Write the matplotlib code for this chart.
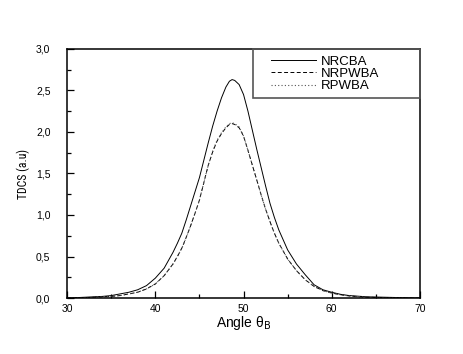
import matplotlib
matplotlib.use("Agg")
import matplotlib.pyplot as plt
from matplotlib.ticker import MultipleLocator, FuncFormatter
from matplotlib.patches import Rectangle

angle = [30, 32, 34, 35, 36, 37, 38, 39, 40, 41, 42, 42.5, 43, 43.5, 44, 44.5, 45,
         45.5, 46, 46.5, 47, 47.5, 48, 48.4, 48.7, 49, 49.5, 50, 50.5, 51, 51.5, 52,
         52.5, 53, 53.5, 54, 55, 56, 57, 58, 59, 60, 61, 62, 64, 66, 68, 70]
nrcba = [0.00, 0.01, 0.02, 0.03, 0.05, 0.07, 0.10, 0.15, 0.24, 0.36, 0.55, 0.66, 0.78,
         0.94, 1.11, 1.28, 1.45, 1.66, 1.87, 2.07, 2.25, 2.41, 2.54, 2.61, 2.63, 2.62,
         2.57, 2.45, 2.25, 2.02, 1.79, 1.57, 1.35, 1.14, 0.97, 0.82, 0.58, 0.41, 0.28,
         0.16, 0.10, 0.07, 0.045, 0.03, 0.015, 0.01, 0.005, 0.00]
nrpwba = [0.00, 0.005, 0.015, 0.02, 0.03, 0.05, 0.07, 0.11, 0.17, 0.27, 0.41, 0.50,
          0.60, 0.73, 0.87, 1.02, 1.18, 1.39, 1.60, 1.76, 1.89, 1.98, 2.05, 2.09, 2.10,
          2.09, 2.05, 1.95, 1.78, 1.60, 1.42, 1.24, 1.07, 0.92, 0.78, 0.66, 0.47, 0.33,
          0.22, 0.14, 0.09, 0.06, 0.04, 0.025, 0.01, 0.005, 0.003, 0.00]
rpwba = [0.00, 0.005, 0.015, 0.02, 0.03, 0.05, 0.07, 0.11, 0.17, 0.27, 0.41, 0.50,
         0.60, 0.73, 0.87, 1.02, 1.18, 1.39, 1.60, 1.77, 1.90, 1.99, 2.06, 2.10, 2.11,
         2.10, 2.06, 1.95, 1.78, 1.60, 1.42, 1.24, 1.07, 0.92, 0.78, 0.66, 0.47, 0.33,
         0.22, 0.14, 0.09, 0.06, 0.04, 0.025, 0.01, 0.005, 0.003, 0.00]

plt.rcParams['font.family'] = ['Liberation Sans', 'DejaVu Sans']

fig = plt.figure(figsize=(4.63, 3.54), dpi=100)
ax = fig.add_axes([0.145, 0.158, 0.762, 0.704])

ax.plot(angle, nrcba, color='black', lw=0.7, label='NRCBA')
ax.plot(angle, nrpwba, color='black', lw=0.7, ls=(0, (4, 2.5)), label='NRPWBA')
ax.plot(angle, rpwba, color='#555555', lw=0.8, ls=(0, (1, 2)), label='RPWBA')

ax.set_xlim(30, 70)
ax.set_ylim(0, 3.0)
ax.xaxis.set_major_locator(MultipleLocator(10))
ax.xaxis.set_minor_locator(MultipleLocator(5))
ax.yaxis.set_major_locator(MultipleLocator(0.5))
ax.yaxis.set_minor_locator(MultipleLocator(0.25))
ax.yaxis.set_major_formatter(FuncFormatter(lambda v, p: f"{v:.1f}".replace('.', ',')))
ax.tick_params(which='both', direction='in', top=False, right=False, labelsize=7.5)
ax.tick_params(which='major', length=5, width=0.9)
ax.tick_params(which='minor', length=3, width=0.9)
ax.tick_params(axis='y', which='major', pad=12)
ax.tick_params(axis='x', which='major', pad=4)
for s in ax.spines.values():
    s.set_linewidth(1.1)

ax.set_xlabel(r'Angle θ$_\mathrm{B}$', fontsize=10, labelpad=0)
ax.set_ylabel('TDCS (a.u)', fontsize=8.5,
              family=['Liberation Sans Narrow', 'Roboto Condensed', 'DejaVu Sans'],
              labelpad=4)

leg = ax.legend(loc='center left', bbox_to_anchor=(0.578, 0.90), borderaxespad=0.0,
                fontsize=9.5, frameon=False, handlelength=3.4, handletextpad=0.4,
                labelspacing=0.0, borderpad=0.0)
ax.add_patch(Rectangle((0.527, 0.803), 0.473, 0.197, transform=ax.transAxes,
                       fill=False, edgecolor='#555555', lw=1.2, clip_on=False, zorder=5))

fig.savefig('out.png', dpi=100)
